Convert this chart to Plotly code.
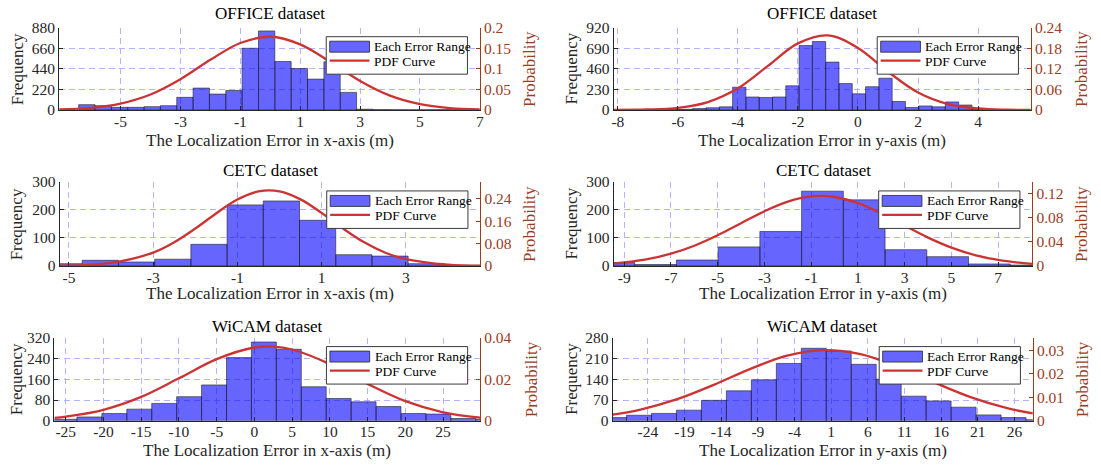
import plotly.graph_objects as go

# Figure canvas; positions below are given in target-picture pixels and
# mapped onto the canvas (the page shows the canvas 8 px down and ~0.965 tall).
FW, FH = 1101, 481
Y_OFF, Y_SCALE = 8.0, 0.965

FONT = "Liberation Serif, Times New Roman, serif"
TXT = "#262626"
BROWN = "#9A3D1F"
GRID = "#B3B3FF"
BAR_FILL = "rgba(0,0,255,0.6)"
BAR_EDGE = "rgba(30,30,40,0.85)"
CURVE = "#CC3333"

# ---------------- data ----------------
titles = ["OFFICE dataset", "OFFICE dataset", "CETC dataset", "CETC dataset", "WiCAM dataset", "WiCAM dataset"]
xlabels = ["The Localization Error in x-axis (m)", "The Localization Error in y-axis (m)"] * 3
legend_labels = ["Each Error Range", "PDF Curve"]

# OFFICE, x-axis error
office_x_bin_start = -6.40
office_x_bin_width = 0.546
office_x_counts = [57, 46, 28, 28, 35, 46, 135, 234, 170, 208, 660, 845, 518, 443, 330, 515, 188, 8, 3, 2, 1, 2, 3, 6]
office_x_pdf_x = [-7.05, -6, -5, -4, -3, -2, -1, 0, 1, 2, 3, 4, 5, 6, 7]
office_x_pdf_y = [0.0014, 0.0052, 0.0155, 0.0376, 0.0748, 0.1219, 0.1627, 0.178, 0.1595, 0.1171, 0.0704, 0.0347, 0.0140, 0.0047, 0.0013]
office_x_xticks = [-5, -3, -1, 1, 3, 5, 7]
office_x_freq_ticks = [0, 220, 440, 660, 880]
office_x_prob_ticks = [0, 0.05, 0.1, 0.15, 0.2]

# OFFICE, y-axis error
office_y_bin_start = -6.835
office_y_bin_width = 0.443
office_y_counts = [2, 4, 8, 15, 25, 35, 255, 145, 140, 145, 270, 720, 765, 535, 295, 180, 260, 355, 95, 28, 45, 35, 90, 55, 5]
office_y_pdf_x = [-8.14, -7, -6, -5, -4, -3, -2, -1, 0, 1, 2, 3, 4, 5, 5.76]
office_y_pdf_y = [0.0002, 0.0013, 0.0062, 0.0230, 0.0632, 0.1286, 0.1942, 0.2175, 0.1808, 0.1114, 0.0510, 0.0173, 0.0044, 0.0008, 0.0002]
office_y_xticks = [-8, -6, -4, -2, 0, 2, 4]
office_y_freq_ticks = [0, 230, 460, 690, 920]
office_y_prob_ticks = [0, 0.06, 0.12, 0.18, 0.24]

# CETC, x-axis error
cetc_x_bin_start = -5.545
cetc_x_bin_width = 0.86
cetc_x_counts = [8, 20, 14, 24, 77, 218, 232, 163, 40, 35, 8, 2]
cetc_x_pdf_x = [-5.22, -4, -3, -2.5, -2, -1.5, -1, -0.5, 0, 0.5, 1, 1.5, 2, 2.5, 3, 4, 4.77]
cetc_x_pdf_y = [0.0009, 0.0107, 0.0475, 0.0843, 0.1334, 0.1883, 0.2370, 0.266, 0.2663, 0.2378, 0.1893, 0.1345, 0.0852, 0.0481, 0.0243, 0.0044, 0.0009]
cetc_x_xticks = [-5, -3, -1, 1, 3]
cetc_x_freq_ticks = [0, 100, 200, 300]
cetc_x_prob_ticks = [0, 0.08, 0.16, 0.24]

# CETC, y-axis error
cetc_y_bin_start = -10.335
cetc_y_bin_width = 1.785
cetc_y_counts = [12, 5, 21, 68, 123, 267, 236, 58, 33, 7, 3]
cetc_y_pdf_x = [-9.45, -9, -8, -7, -6, -5, -4, -3, -2, -1, 0, 1, 2, 3, 4, 5, 6, 7, 8, 8.46]
cetc_y_pdf_y = [0.0041, 0.0057, 0.0112, 0.0203, 0.0336, 0.0510, 0.0712, 0.0912, 0.1073, 0.1159, 0.1149, 0.1046, 0.0874, 0.0671, 0.0472, 0.0305, 0.0181, 0.0099, 0.0049, 0.0035]
cetc_y_xticks = [-9, -7, -5, -3, -1, 1, 3, 5, 7]
cetc_y_freq_ticks = [0, 100, 200, 300]
cetc_y_prob_ticks = [0, 0.04, 0.08, 0.12]

# WiCAM, x-axis error
wicam_x_bin_start = -26.82
wicam_x_bin_width = 3.303
wicam_x_counts = [6, 15, 28, 45, 67, 93, 138, 243, 303, 275, 131, 86, 73, 55, 28, 26, 9, 6]
wicam_x_pdf_x = [-26.5, -25, -20, -15, -10, -5, 0, 2.5, 5, 10, 15, 20, 25, 29.9]
wicam_x_pdf_y = [0.00144, 0.00201, 0.00531, 0.01152, 0.02043, 0.02966, 0.03524, 0.03563, 0.03427, 0.02727, 0.01776, 0.00946, 0.00413, 0.00151]
wicam_x_xticks = [-25, -20, -15, -10, -5, 0, 5, 10, 15, 20, 25]
wicam_x_freq_ticks = [0, 80, 160, 240, 320]
wicam_x_prob_ticks = [0, 0.02, 0.04]

# WiCAM, y-axis error
wicam_y_bin_start = -30.315
wicam_y_bin_width = 3.405
wicam_y_counts = [11, 19, 25, 36, 69, 101, 138, 193, 244, 235, 190, 140, 83, 67, 46, 20, 11, 4]
wicam_y_pdf_x = [-28.8, -25, -20, -15, -10, -5, 0, 5, 10, 15, 20, 25, 28.5]
wicam_y_pdf_y = [0.00265, 0.00479, 0.0092, 0.01532, 0.02212, 0.0277, 0.03009, 0.02834, 0.02315, 0.0164, 0.01008, 0.00537, 0.00318]
wicam_y_xticks = [-24, -19, -14, -9, -4, 1, 6, 11, 16, 21, 26]
wicam_y_freq_ticks = [0, 70, 140, 210, 280]
wicam_y_prob_ticks = [0, 0.01, 0.02, 0.03]

data = [
    (office_x_bin_start, office_x_bin_width, office_x_counts, office_x_pdf_x, office_x_pdf_y,
     office_x_xticks, office_x_freq_ticks, office_x_prob_ticks),
    (office_y_bin_start, office_y_bin_width, office_y_counts, office_y_pdf_x, office_y_pdf_y,
     office_y_xticks, office_y_freq_ticks, office_y_prob_ticks),
    (cetc_x_bin_start, cetc_x_bin_width, cetc_x_counts, cetc_x_pdf_x, cetc_x_pdf_y,
     cetc_x_xticks, cetc_x_freq_ticks, cetc_x_prob_ticks),
    (cetc_y_bin_start, cetc_y_bin_width, cetc_y_counts, cetc_y_pdf_x, cetc_y_pdf_y,
     cetc_y_xticks, cetc_y_freq_ticks, cetc_y_prob_ticks),
    (wicam_x_bin_start, wicam_x_bin_width, wicam_x_counts, wicam_x_pdf_x, wicam_x_pdf_y,
     wicam_x_xticks, wicam_x_freq_ticks, wicam_x_prob_ticks),
    (wicam_y_bin_start, wicam_y_bin_width, wicam_y_counts, wicam_y_pdf_x, wicam_y_pdf_y,
     wicam_y_xticks, wicam_y_freq_ticks, wicam_y_prob_ticks),
]

# ---------------- layout (target-picture pixel geometry) ----------------
boxes = [  # axes box: left, right, top, bottom
    (57.5, 480.5, 26.7, 109.0),
    (615.0, 1034.5, 26.7, 109.0),
    (58.0, 481.0, 181.0, 265.0),
    (615.0, 1036.0, 181.0, 265.0),
    (52.7, 480.7, 336.7, 420.0),
    (614.0, 1036.5, 336.7, 420.0),
]
xranges = [(-7.05, 7.0), (-8.14, 5.76), (-5.22, 4.77), (-9.45, 8.46), (-26.5, 29.9), (-28.8, 28.5)]
prob_ranges = [(0, 0.2), (0, 0.24), (0, 0.3), (0, 0.14), (0, 0.04), (0, 0.0354)]
title_y = [13, 13, 170, 170, 325.7, 325.7]
xlabel_y = [140, 140, 293, 293, 450, 450]
freq_x = [15.5, 572.8, 15.5, 572.8, 14.0, 572.8]
prob_x = [531, 1086, 531, 1086, 532, 1086]


def px(x):
    return x / FW


def py(y):
    return 1 - ((y - Y_OFF) / Y_SCALE) / FH


def fmt(v):
    return "%g" % v


fig = go.Figure()
annotations = []
shapes = []

for p, (bstart, bwidth, counts, cx, cy, xt, ft, pt) in enumerate(data):
    xn = "x" if p == 0 else f"x{p + 1}"
    yl = 2 * p + 1
    yr = 2 * p + 2
    yln = "y" if yl == 1 else f"y{yl}"
    yrn = f"y{yr}"
    L, R, T, B = boxes[p]

    lefts = [bstart + i * bwidth for i in range(len(counts))]
    fig.add_trace(go.Bar(
        x=lefts, y=counts, width=bwidth, offset=0,
        marker=dict(color=BAR_FILL, line=dict(color=BAR_EDGE, width=0.7)),
        name=legend_labels[0], xaxis=xn, yaxis=yln, showlegend=False,
    ))
    fig.add_trace(go.Scatter(
        x=cx, y=cy, mode="lines",
        line=dict(color=CURVE, width=2.3, shape="spline", smoothing=1.0),
        name=legend_labels[1], xaxis=xn, yaxis=yrn, showlegend=False,
    ))

    xkey = "xaxis" if p == 0 else f"xaxis{p + 1}"
    ylkey = "yaxis" if yl == 1 else f"yaxis{yl}"
    yrkey = f"yaxis{yr}"
    fig.layout[xkey] = dict(
        domain=[px(L), px(R)], anchor=yln, range=list(xranges[p]),
        tickmode="array", tickvals=xt, ticktext=[fmt(v) for v in xt],
        ticks="inside", ticklen=4, tickwidth=1, tickcolor=TXT,
        showline=True, linecolor=TXT, linewidth=1,
        showgrid=True, gridcolor=GRID, gridwidth=1, griddash="6px,4px",
        zeroline=False, tickfont=dict(family=FONT, size=15.5, color=TXT),
        ticklabelstandoff=-3, fixedrange=True,
    )
    fig.layout[ylkey] = dict(
        domain=[py(B), py(T)], anchor=xn, range=[ft[0], ft[-1]],
        tickmode="array", tickvals=ft, ticktext=[fmt(v) for v in ft],
        ticks="inside", ticklen=4, tickwidth=1, tickcolor=TXT,
        showline=True, linecolor=TXT, linewidth=1,
        showgrid=True, gridcolor=GRID, gridwidth=1, griddash="6px,4px",
        zeroline=False, tickfont=dict(family=FONT, size=15.5, color=TXT),
        fixedrange=True,
    )
    fig.layout[yrkey] = dict(
        overlaying=yln, side="right", anchor=xn, range=list(prob_ranges[p]),
        tickmode="array", tickvals=pt, ticktext=[fmt(v) for v in pt],
        ticks="inside", ticklen=4, tickwidth=1, tickcolor=BROWN,
        showline=True, linecolor=BROWN, linewidth=1,
        showgrid=False, zeroline=False,
        tickfont=dict(family=FONT, size=15.5, color=BROWN),
        fixedrange=True,
    )

    # ---- legend box (MATLAB style, northeast) ----
    bx1 = R - 12.5
    bx0 = bx1 - 142
    by0 = T + 9
    by1 = by0 + 37.5
    shapes.append(dict(type="rect", xref="paper", yref="paper", layer="above",
                       x0=px(bx0), x1=px(bx1), y0=py(by1), y1=py(by0),
                       fillcolor="white", line=dict(color="#3a3a3a", width=1)))
    shapes.append(dict(type="rect", xref="paper", yref="paper", layer="above",
                       x0=px(bx0 + 3.5), x1=px(bx0 + 43.5), y0=py(by0 + 15.5), y1=py(by0 + 4.5),
                       fillcolor="#6666FF", line=dict(color="#262626", width=0.8)))
    shapes.append(dict(type="line", xref="paper", yref="paper", layer="above",
                       x0=px(bx0 + 3.5), x1=px(bx0 + 43.5), y0=py(by0 + 24), y1=py(by0 + 24),
                       line=dict(color=CURVE, width=2.3)))
    annotations.append(dict(text=legend_labels[0], x=px(bx0 + 46.5), y=py(by0 + 10), xref="paper", yref="paper",
                            xanchor="left", yanchor="middle", showarrow=False,
                            font=dict(family=FONT, size=13.5, color="#000000")))
    annotations.append(dict(text=legend_labels[1], x=px(bx0 + 46.5), y=py(by0 + 24.5), xref="paper", yref="paper",
                            xanchor="left", yanchor="middle", showarrow=False,
                            font=dict(family=FONT, size=13.5, color="#000000")))

    cxm = (L + R) / 2
    annotations += [
        dict(text=titles[p], x=px(cxm), y=py(title_y[p]), xref="paper", yref="paper",
             xanchor="center", yanchor="middle", showarrow=False,
             font=dict(family=FONT, size=17, color="#000000")),
        dict(text=xlabels[p], x=px(cxm), y=py(xlabel_y[p]), xref="paper", yref="paper",
             xanchor="center", yanchor="middle", showarrow=False,
             font=dict(family=FONT, size=17, color=TXT)),
        dict(text="Frequency", x=px(freq_x[p]), y=py((T + B) / 2), xref="paper", yref="paper",
             xanchor="center", yanchor="middle", showarrow=False, textangle=-90,
             font=dict(family=FONT, size=17, color=TXT)),
        dict(text="Probability", x=px(prob_x[p]), y=py((T + B) / 2), xref="paper", yref="paper",
             xanchor="center", yanchor="middle", showarrow=False, textangle=-90,
             font=dict(family=FONT, size=17, color=BROWN)),
    ]

fig.update_layout(
    width=FW, height=FH,
    margin=dict(l=0, r=0, t=0, b=0),
    paper_bgcolor="white", plot_bgcolor="rgba(0,0,0,0)",
    barmode="overlay", showlegend=False,
    font=dict(family=FONT, color=TXT, size=15),
    annotations=annotations, shapes=shapes,
)
fig.write_html("out.html", config={"displayModeBar": False})
